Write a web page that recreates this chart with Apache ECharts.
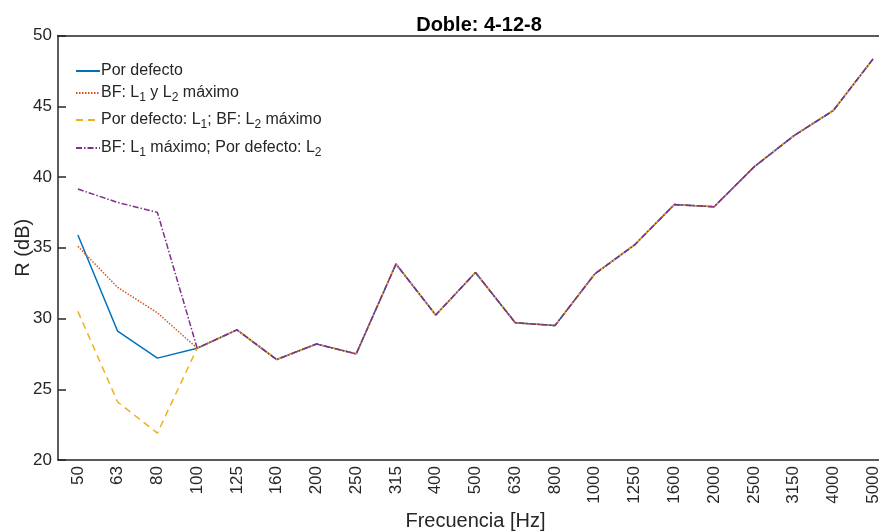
<!DOCTYPE html>
<html>
<head>
<meta charset="utf-8">
<script src="https://cdn.jsdelivr.net/npm/echarts@6/dist/echarts.min.js"></script>
<style>
  html, body { margin: 0; padding: 0; background: #fff; }
  #chart { width: 879px; height: 532px; }
</style>
</head>
<body>
<div id="chart"></div>
<script>
// frecuencias (Hz)
var frecuencias = ['50', '63', '80', '100', '125', '160', '200', '250', '315', '400', '500',
  '630', '800', '1000', '1250', '1600', '2000', '2500', '3150', '4000', '5000'];

// R (dB) de cada caso
var porDefecto = [35.9, 29.1, 27.2, 27.9, 29.2, 27.1, 28.2, 27.5, 33.85, 30.25, 33.25,
  29.7, 29.5, 33.15, 35.2, 38.05, 37.9, 40.7, 42.9, 44.7, 48.35];
var bfMaximo = [35.1, 32.2, 30.4, 27.9, 29.2, 27.1, 28.2, 27.5, 33.85, 30.25, 33.25,
  29.7, 29.5, 33.15, 35.2, 38.05, 37.9, 40.7, 42.9, 44.7, 48.35];
var defL1bfL2 = [30.5, 24.1, 21.9, 27.9, 29.2, 27.1, 28.2, 27.5, 33.85, 30.25, 33.25,
  29.7, 29.5, 33.15, 35.2, 38.05, 37.9, 40.7, 42.9, 44.7, 48.35];
var bfL1defL2 = [39.15, 38.2, 37.5, 27.9, 29.2, 27.1, 28.2, 27.5, 33.85, 30.25, 33.25,
  29.7, 29.5, 33.15, 35.2, 38.05, 37.9, 40.7, 42.9, 44.7, 48.35];

var nombres = ['Por defecto', 'BF: L1 y L2 máximo', 'Por defecto: L1; BF: L2 máximo', 'BF: L1 máximo; Por defecto: L2'];
// textos con subíndices (rich text)
var etiquetas = [
  '{t|Por defecto}',
  '{t|BF: L}{s|1}{t| y L}{s|2}{t| máximo}',
  '{t|Por defecto: L}{s|1}{t|; BF: L}{s|2}{t| máximo}',
  '{t|BF: L}{s|1}{t| máximo; Por defecto: L}{s|2}'
];
var legendTop = [58, 80, 107, 135];

var fuente = '"Liberation Sans", Arial, Helvetica, sans-serif';
var ejeColor = '#262626';

var myChart = echarts.init(document.getElementById('chart'));

var legends = [];
for (var i = 0; i < nombres.length; i++) {
  legends.push({
    data: [nombres[i]],
    left: 70,
    top: legendTop[i],
    itemWidth: 24,
    itemHeight: 10,
    itemGap: 0,
    selectedMode: false,
    itemStyle: { color: 'transparent', borderWidth: 0 },
    formatter: (function(k) { return function() { return etiquetas[k]; }; })(i),
    textStyle: {
      padding: [0, 0, 0, -4],
      rich: {
        t: { fontFamily: fuente, fontSize: 16, color: ejeColor, lineHeight: 22, verticalAlign: 'middle' },
        s: { fontFamily: fuente, fontSize: 12, color: ejeColor, lineHeight: 22, verticalAlign: 'bottom' }
      }
    }
  });
}

var option = {
  backgroundColor: '#fff',
  animation: false,
  title: {
    text: 'Doble: 4-12-8',
    left: 474,
    textAlign: 'center',
    top: 10,
    textStyle: { fontFamily: fuente, fontSize: 20, fontWeight: 'bold', color: '#000' }
  },
  legend: legends,
  grid: { left: 58, top: 35.5, width: 835, height: 424.5, containLabel: false, outerBoundsMode: 'none' },
  xAxis: [{
    type: 'category',
    data: frecuencias,
    boundaryGap: true,
    name: 'Frecuencia [Hz]',
    nameLocation: 'middle',
    nameGap: 51,
    nameTextStyle: { fontFamily: fuente, fontSize: 20, color: ejeColor, verticalAlign: 'top' },
    axisLine: { lineStyle: { color: ejeColor, width: 1.5 } },
    axisTick: { inside: true, length: 8, alignWithLabel: true, lineStyle: { color: ejeColor, width: 1.5 } },
    axisLabel: { interval: 0, rotate: 90, margin: 6, fontFamily: fuente, fontSize: 17, color: ejeColor },
    splitLine: { show: false }
  }, {
    type: 'category',
    data: frecuencias,
    position: 'top',
    boundaryGap: true,
    axisLine: { lineStyle: { color: ejeColor, width: 1.5 } },
    axisTick: { inside: true, length: 8, alignWithLabel: true, lineStyle: { color: ejeColor, width: 1.5 } },
    axisLabel: { show: false }
  }],
  yAxis: [{
    type: 'value',
    min: 20,
    max: 50,
    interval: 5,
    name: 'R (dB)',
    nameLocation: 'middle',
    nameGap: 25,
    nameMoveOverlap: false,
    nameTextStyle: { fontFamily: fuente, fontSize: 20, color: ejeColor },
    axisLine: { show: true, lineStyle: { color: ejeColor, width: 1.5 } },
    axisTick: { show: true, inside: true, length: 8, lineStyle: { color: ejeColor, width: 1.5 } },
    axisLabel: { margin: 6, fontFamily: fuente, fontSize: 17, color: ejeColor },
    splitLine: { show: false }
  }, {
    type: 'value',
    min: 20,
    max: 50,
    interval: 5,
    position: 'right',
    axisLine: { show: true, lineStyle: { color: ejeColor, width: 1.5 } },
    axisTick: { show: true, inside: true, length: 8, lineStyle: { color: ejeColor, width: 1.5 } },
    axisLabel: { show: false },
    splitLine: { show: false }
  }],
  series: [{
    name: nombres[0],
    type: 'line',
    data: porDefecto,
    symbol: 'none',
    lineStyle: { color: '#0072BD', width: 1.5, type: 'solid' },
    itemStyle: { color: '#0072BD' }
  }, {
    name: nombres[1],
    type: 'line',
    data: bfMaximo,
    symbol: 'none',
    lineStyle: { color: '#D95319', width: 1.5, type: [1.5, 1.5] },
    itemStyle: { color: '#D95319' }
  }, {
    name: nombres[2],
    type: 'line',
    data: defL1bfL2,
    symbol: 'none',
    lineStyle: { color: '#EDB120', width: 1.5, type: [7, 5] },
    itemStyle: { color: '#EDB120' }
  }, {
    name: nombres[3],
    type: 'line',
    data: bfL1defL2,
    symbol: 'none',
    lineStyle: { color: '#7E2F8E', width: 1.5, type: [6, 2, 1.5, 2] },
    itemStyle: { color: '#7E2F8E' }
  }]
};
myChart.setOption(option);
</script>
</body>
</html>
